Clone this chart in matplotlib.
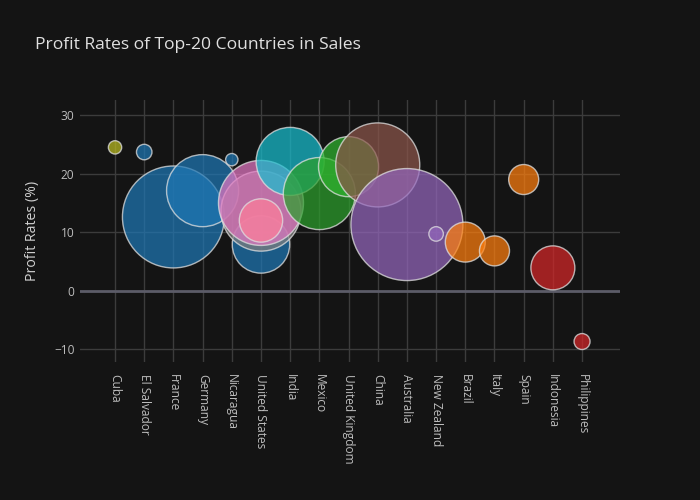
import numpy as np
import matplotlib.pyplot as plt
from matplotlib.colors import to_rgba

plt.rcParams['font.family'] = ['Open Sans', 'DejaVu Sans']

countries = ["Cuba", "El Salvador", "France", "Germany", "Nicaragua", "United States",
             "India", "Mexico", "United Kingdom", "China", "Australia", "New Zealand",
             "Brazil", "Italy", "Spain", "Indonesia", "Philippines"]

# one entry per bubble (United States is split into 4 regions)
bubble_country = ["Cuba", "El Salvador", "France", "Germany", "Nicaragua",
                  "United States", "United States", "United States", "United States",
                  "India", "Mexico", "United Kingdom", "China", "Australia", "New Zealand",
                  "Brazil", "Italy", "Spain", "Indonesia", "Philippines"]
profit_rate = [24.5, 23.7, 12.6, 17.1, 22.4,
               7.9, 13.6, 15.0, 12.0,
               22.1, 16.6, 21.2, 21.5, 11.3, 9.7,
               8.3, 6.8, 19.0, 3.9, -8.7]
sales_k = [110, 128, 842, 595, 102,
           474, 661, 702, 358,
           562, 595, 496, 694, 925, 120,
           330, 248, 248, 363, 132]
colors = ["#bcbd22", "#1f77b4", "#1f77b4", "#1f77b4", "#1f77b4",
          "#1f77b4", "#7f7f7f", "#e377c2", "#ff7f9a",
          "#17becf", "#2ca02c", "#2fb52f", "#8c564b", "#9467bd", "#9467bd",
          "#ff7f0e", "#ff7f0e", "#ff7f0e", "#d62728", "#d62728"]

bg = "#141414"
fig = plt.figure(figsize=(7, 5), dpi=100, facecolor=bg)
ax = fig.add_axes([80/700, 1 - 362/500, 540/700, 262/500], facecolor=bg)

xpos = [countries.index(c) for c in bubble_country]
# bubble diameter in pixels proportional to sales
diam_px = np.array(sales_k) / 925 * 112
sizes = (diam_px * 0.72) ** 2
face = [to_rgba(c, 0.72) for c in colors]
ax.scatter(xpos, profit_rate, s=sizes, c=face, edgecolors=(0.88, 0.88, 0.88, 0.75),
           linewidths=1.0, zorder=3)

ax.set_xlim(-1.2, 17.3)
ax.set_ylim(-12.2, 32.6)
ax.set_xticks(range(len(countries)))
ax.set_xticklabels(countries, rotation=-90, ha='center', va='top')
ax.set_yticks([-10, 0, 10, 20, 30])
ax.set_yticklabels(["\u221210", "0", "10", "20", "30"])
ax.tick_params(axis='both', length=0, colors='#bdbdbd', labelsize=8.6)
ax.tick_params(axis='x', pad=9)
ax.tick_params(axis='y', pad=4)
ax.grid(True, color='#3c3c3c', linewidth=1.0, zorder=0)
ax.set_axisbelow(True)
ax.axhline(0, color='#5c5c68', linewidth=2.0, zorder=1)
for s in ax.spines.values():
    s.set_visible(False)

ax.set_ylabel("Profit Rates (%)", color='#d0d0d0', fontsize=10.2, labelpad=10)
fig.text(35/700, 1 - 45/500, "Profit Rates of Top-20 Countries in Sales",
         color='#e0e0e0', fontsize=12.6, ha='left', va='center')

fig.savefig("out.png", dpi=100, facecolor=bg)
